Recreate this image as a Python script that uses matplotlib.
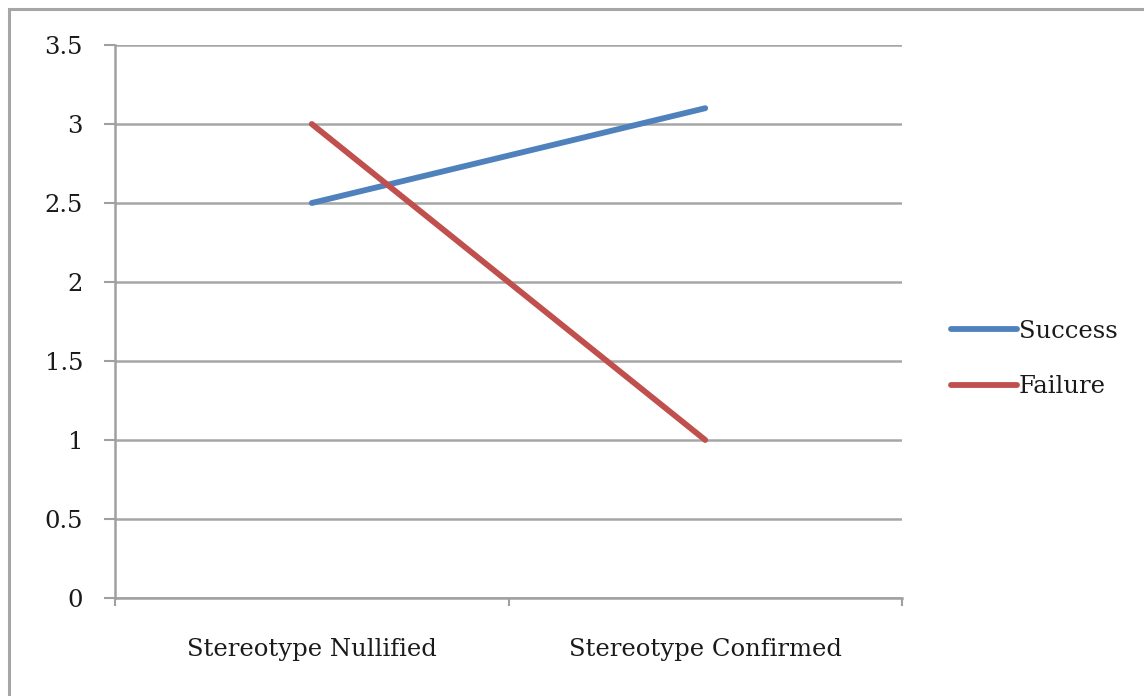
import matplotlib
matplotlib.use("Agg")
import matplotlib.pyplot as plt
from matplotlib.lines import Line2D

categories = ["Stereotype Nullified", "Stereotype Confirmed"]
success = [2.5, 3.1]
failure = [3.0, 1.0]
yticks = [0, 0.5, 1, 1.5, 2, 2.5, 3, 3.5]
ytick_labels = ["0", "0.5", "1", "1.5", "2", "2.5", "3", "3.5"]

plt.rcParams['font.family'] = ['DejaVu Serif']

W, H = 1144, 696
fig = plt.figure(figsize=(W / 100, H / 100), dpi=100)
fig.patch.set_facecolor("white")

# outer chart frame (only top and left visible)
fig.add_artist(Line2D([9 / W, 9 / W], [0, 1 - 9 / H], transform=fig.transFigure,
                      color="#a6a6a6", lw=2.2))
fig.add_artist(Line2D([9 / W, 1], [1 - 9 / H, 1 - 9 / H], transform=fig.transFigure,
                      color="#a6a6a6", lw=2.2))

ax = fig.add_axes([115 / W, 1 - 598 / H, (902 - 115) / W, (598 - 45) / H])
x = [0.5, 1.5]
ax.plot(x, success, color="#4F81BD", lw=4.2, solid_capstyle="round", label="Success", zorder=3)
ax.plot(x, failure, color="#C0504D", lw=4.2, solid_capstyle="round", label="Failure", zorder=3)

fs = 17.5
ax.set_xlim(0, 2)
ax.set_ylim(0, 3.5)
ax.set_yticks(yticks)
ax.set_yticklabels(ytick_labels)
ax.set_xticks([0, 1, 2])
ax.set_xticklabels([])
ax.set_xticks(x, minor=True)
ax.set_xticklabels(categories, minor=True)
ax.tick_params(axis="x", which="minor", length=0, pad=29, labelsize=fs, colors="#1a1a1a")
ax.tick_params(axis="x", which="major", length=6, width=1.5, color="#a0a0a0", direction="out")
ax.tick_params(axis="y", length=8, width=1.5, color="#a0a0a0", direction="out", pad=15,
               labelsize=fs, labelcolor="#1a1a1a")
ax.yaxis.grid(True, color="#a6a6a6", lw=1.8)
ax.set_axisbelow(True)
for s in ["top", "right"]:
    ax.spines[s].set_visible(False)
for s in ["left", "bottom"]:
    ax.spines[s].set_color("#a0a0a0")
    ax.spines[s].set_linewidth(1.8)

leg = ax.legend(loc="center left", bbox_to_anchor=(929 / W, 1 - 359 / H),
                bbox_transform=fig.transFigure, frameon=False, fontsize=fs,
                handlelength=2.7, handletextpad=0.1, labelspacing=1.33)
for t in leg.get_texts():
    t.set_color("#1a1a1a")

fig.savefig("out.png", dpi=100, facecolor="white")
